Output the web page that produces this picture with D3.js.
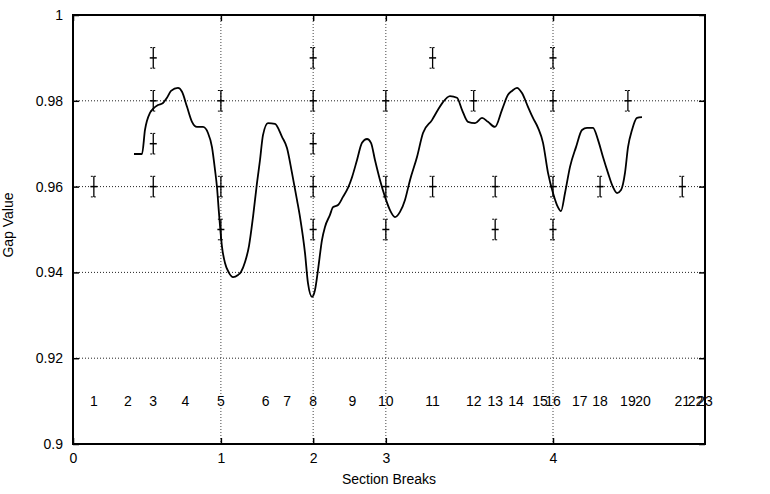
<!DOCTYPE html>
<html lang="en">
    <head>
        <meta charset="utf-8">
        <title>Gap Value</title>
        <script type="text/javascript" src="https://cdn.jsdelivr.net/npm/d3@7"></script>
        <style>
            body { margin: 0; background: #fff; }
            text { font-family: "Liberation Sans", Arial, Helvetica, sans-serif; }
        </style>
    </head>
    <body>
        <script type="text/javascript">
        // position of each paragraph label along the text (0..100)
        var paraNumbers = [1, 2, 3, 4, 5, 6, 7, 8, 9, 10, 11, 12, 13, 14, 15, 16, 17, 18, 19, 20, 21, 22, 23];
        var paraPos = [3.3, 8.7, 12.7, 17.8, 23.4, 30.5, 33.9, 38.0, 44.2, 49.5, 56.9, 63.4, 66.8,
                       70.1, 73.9, 75.95, 80.2, 83.4, 87.8, 90.2, 96.4, 98.5, 100.0];
        var labelLevel = 0.91;

        // section breaks fall on paragraphs 5, 8, 10, 16
        var breakLabels = ["0", "1", "2", "3", "4"];
        var breakParas = [null, 5, 8, 10, 16];

        var yTicks = [0.9, 0.92, 0.94, 0.96, 0.98, 1];
        var yTickLabels = ["0.9", "0.92", "0.94", "0.96", "0.98", "1"];

        // smoothed gap curve
        var curveX = [9.65, 10.92, 11.39, 12.18, 12.66, 13.45, 14.24, 14.87, 15.51, 16.61, 17.25, 18.04,
                      18.83, 19.62, 20.57, 21.36, 21.99, 22.47, 22.78, 23.10, 23.58, 24.05, 24.68, 25.32,
                      26.11, 26.58, 27.22, 27.85, 28.48, 29.11, 29.59, 30.06, 30.85, 31.96, 33.07, 33.86,
                      34.65, 35.44, 35.92, 36.71, 37.18, 37.82, 38.29, 38.77, 39.40, 39.87, 40.66, 41.14,
                      41.93, 42.72, 43.51, 44.15, 44.94, 45.73, 46.52, 47.15, 47.78, 48.58, 49.37, 50.16,
                      50.95, 51.74, 52.53, 53.32, 54.43, 55.38, 56.80, 57.75, 58.54, 59.65, 60.76, 61.55,
                      62.50, 63.61, 64.72, 65.66, 66.77, 67.88, 68.83, 69.46, 70.25, 71.04, 71.99, 72.78,
                      73.58, 74.37, 75.16, 75.95, 76.58, 77.22, 77.85, 78.64, 79.59, 80.54, 81.33, 82.28,
                      83.07, 83.86, 84.65, 85.44, 86.08, 86.71, 87.34, 87.82, 88.45, 89.24, 90.03];
        var curveY = [0.9676, 0.9676, 0.9732, 0.9772, 0.9781, 0.9790, 0.9795, 0.9807, 0.9823, 0.9830, 0.9821, 0.9786,
                      0.9751, 0.9739, 0.9739, 0.9725, 0.9692, 0.9639, 0.9599, 0.9538, 0.9459, 0.9422, 0.9399, 0.9389,
                      0.9394, 0.9401, 0.9424, 0.9462, 0.9529, 0.9608, 0.9662, 0.9720, 0.9748, 0.9746, 0.9716, 0.9690,
                      0.9632, 0.9569, 0.9529, 0.9445, 0.9375, 0.9343, 0.9359, 0.9406, 0.9476, 0.9506, 0.9534, 0.9552,
                      0.9557, 0.9576, 0.9597, 0.9622, 0.9662, 0.9702, 0.9711, 0.9702, 0.9662, 0.9615, 0.9576, 0.9545,
                      0.9529, 0.9541, 0.9569, 0.9615, 0.9669, 0.9725, 0.9755, 0.9779, 0.9797, 0.9811, 0.9807, 0.9779,
                      0.9751, 0.9748, 0.9760, 0.9751, 0.9739, 0.9779, 0.9814, 0.9823, 0.9830, 0.9818, 0.9786, 0.9760,
                      0.9737, 0.9702, 0.9632, 0.9585, 0.9557, 0.9543, 0.9585, 0.9646, 0.9692, 0.9732, 0.9737, 0.9737,
                      0.9709, 0.9669, 0.9632, 0.9599, 0.9585, 0.9592, 0.9632, 0.9692, 0.9732, 0.9760, 0.9762];

        // error bar points, keyed by paragraph number
        var barParas = [1, 3, 3, 3, 3, 5, 5, 5, 8, 8, 8, 8, 8, 10, 10, 10, 11, 11, 12, 13, 13, 16, 16, 16, 16, 18, 19, 21];
        var barValues = [0.96, 0.99, 0.98, 0.97, 0.96, 0.98, 0.96, 0.95, 0.99, 0.98, 0.97, 0.96, 0.95,
                         0.98, 0.96, 0.95, 0.99, 0.96, 0.98, 0.96, 0.95, 0.99, 0.98, 0.96, 0.95, 0.96, 0.98, 0.96];
        var barError = 0.0024;

        var w = 770;
        var h = 494;
        var margin = {top: 15, right: 65, bottom: 50, left: 73};
        var pw = w - margin.left - margin.right;
        var ph = h - margin.top - margin.bottom;

        var xScale = d3.scaleLinear().domain([0, 100]).range([0, pw]);
        var yScale = d3.scaleLinear().domain([0.9, 1]).range([ph, 0]);

        var breakPos = breakParas.map(function(p) {
            return p === null ? 0 : paraPos[p - 1];
        });

        var svg = d3.select("body")
                    .append("svg")
                    .attr("width", w)
                    .attr("height", h);

        var g = svg.append("g")
                    .attr("transform", "translate(" + margin.left + "," + margin.top + ")");

        // horizontal dotted grid
        g.selectAll(".hgrid")
            .data(yTicks.filter(function(d) { return d > 0.9 && d < 1; }))
            .enter()
            .append("line")
            .attr("x1", 0)
            .attr("x2", pw)
            .attr("y1", function(d) { return yScale(d); })
            .attr("y2", function(d) { return yScale(d); })
            .attr("stroke", "#222")
            .attr("stroke-width", 1)
            .attr("stroke-dasharray", "1,2");

        // vertical dotted grid at the section breaks
        g.selectAll(".vgrid")
            .data(breakPos.slice(1))
            .enter()
            .append("line")
            .attr("x1", function(d) { return xScale(d); })
            .attr("x2", function(d) { return xScale(d); })
            .attr("y1", 0)
            .attr("y2", ph)
            .attr("stroke", "#444")
            .attr("stroke-width", 1)
            .attr("stroke-dasharray", "1,2");

        // axes with inward ticks, mirrored
        var yAxisL = d3.axisLeft(yScale).tickValues(yTicks).tickSizeInner(-6).tickSizeOuter(0)
                        .tickPadding(10).tickFormat(function(d, i) { return yTickLabels[i]; });
        var yAxisR = d3.axisRight(yScale).tickValues(yTicks).tickSizeInner(-6).tickSizeOuter(0).tickFormat("");
        var xAxisB = d3.axisBottom(xScale).tickValues(breakPos).tickSizeInner(-6).tickSizeOuter(0)
                        .tickPadding(9).tickFormat(function(d, i) { return breakLabels[i]; });
        var xAxisT = d3.axisTop(xScale).tickValues(breakPos).tickSizeInner(-6).tickSizeOuter(0).tickFormat("");

        g.append("g").attr("class", "axis").call(yAxisL);
        g.append("g").attr("class", "axis").attr("transform", "translate(" + pw + ",0)").call(yAxisR);
        g.append("g").attr("class", "axis").attr("transform", "translate(0," + ph + ")").call(xAxisB);
        g.append("g").attr("class", "axis").call(xAxisT);

        g.selectAll(".axis path").remove();
        g.selectAll(".axis line").attr("stroke", "#000").attr("stroke-width", 1.5);
        g.selectAll(".axis text")
            .attr("fill", "#000")
            .attr("font-size", "14px")
            .attr("font-family", "'Liberation Sans', Arial, sans-serif");

        // frame
        g.append("rect")
            .attr("x", 0)
            .attr("y", 0)
            .attr("width", pw)
            .attr("height", ph)
            .attr("fill", "none")
            .attr("stroke", "#000")
            .attr("stroke-width", 2);

        // paragraph numbers
        g.selectAll(".para")
            .data(paraNumbers)
            .enter()
            .append("text")
            .attr("x", function(d, i) { return xScale(paraPos[i]); })
            .attr("y", yScale(labelLevel))
            .attr("dy", "0.35em")
            .attr("text-anchor", "middle")
            .attr("font-size", "14px")
            .text(function(d) { return d; });

        // error bars
        var bars = g.selectAll(".bar")
            .data(barValues)
            .enter()
            .append("g")
            .attr("transform", function(d, i) {
                return "translate(" + xScale(paraPos[barParas[i] - 1]) + "," + yScale(d) + ")";
            });

        var errPx = yScale(0.9) - yScale(0.9 + barError);
        bars.append("line")
            .attr("x1", 0).attr("x2", 0)
            .attr("y1", -errPx).attr("y2", errPx)
            .attr("stroke", "#000").attr("stroke-width", 1.3);
        bars.append("line")
            .attr("x1", -3.5).attr("x2", 3.5)
            .attr("y1", 0).attr("y2", 0)
            .attr("stroke", "#000").attr("stroke-width", 1.5);
        bars.append("line")
            .attr("x1", -3).attr("x2", 2.5)
            .attr("y1", -errPx).attr("y2", -errPx)
            .attr("stroke", "#000").attr("stroke-width", 1).attr("stroke-dasharray", "2,1");
        bars.append("line")
            .attr("x1", -3).attr("x2", 2.5)
            .attr("y1", errPx).attr("y2", errPx)
            .attr("stroke", "#000").attr("stroke-width", 1).attr("stroke-dasharray", "2,1");

        // gap curve
        var line = d3.line()
                    .x(function(d, i) { return xScale(curveX[i]); })
                    .y(function(d) { return yScale(d); })
                    .curve(d3.curveMonotoneX);

        g.append("path")
            .datum(curveY)
            .attr("d", line)
            .attr("fill", "none")
            .attr("stroke", "#000")
            .attr("stroke-width", 1.8);

        // axis titles
        svg.append("text")
            .attr("x", margin.left + pw / 2)
            .attr("y", 484)
            .attr("text-anchor", "middle")
            .attr("font-size", "14px")
            .text("Section Breaks");

        svg.append("text")
            .attr("transform", "translate(13," + 225 + ") rotate(-90)")
            .attr("text-anchor", "middle")
            .attr("font-size", "14px")
            .text("Gap Value");
        </script>
    </body>
</html>
